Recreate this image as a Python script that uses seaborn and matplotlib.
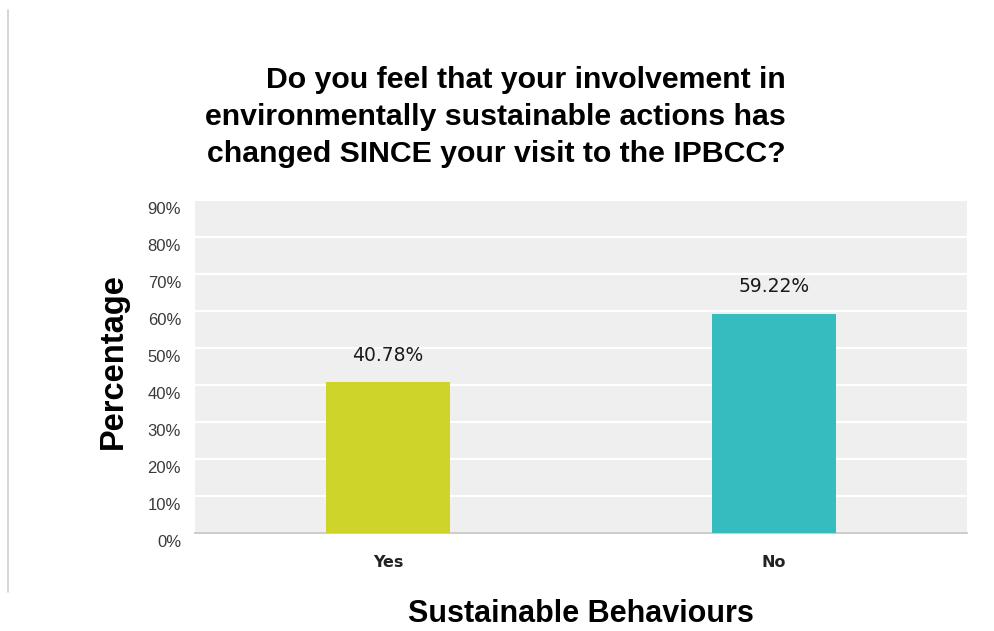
import matplotlib
matplotlib.use("Agg")
import matplotlib.pyplot as plt
import matplotlib.transforms as mtransforms
from matplotlib.lines import Line2D
from matplotlib.ticker import FuncFormatter, MultipleLocator
import seaborn as sns
import pandas as pd

# Survey responses
categories = ["Yes", "No"]
percentages = [40.78, 59.22]
bar_colors = ["#CFD42A", "#34BCBE"]

title_text = ("Do you feel that your involvement in\n"
              "environmentally sustainable actions has\n"
              "changed SINCE your visit to the IPBCC?")
x_label = "Sustainable Behaviours"
y_label = "Percentage"

sns.set_theme(style="white")
plt.rcParams["font.family"] = ["Liberation Sans", "DejaVu Sans"]

df = pd.DataFrame({"behaviour": categories, "pct": percentages})

fig = plt.figure(figsize=(9.94, 6.31), dpi=100)
ax = fig.add_axes([195 / 994, 1 - 533 / 631, (967 - 195) / 994, (533 - 200) / 631])

sns.barplot(data=df, x="behaviour", y="pct", hue="behaviour",
            palette=bar_colors, width=0.32, legend=False, ax=ax,
            saturation=1, edgecolor="none", zorder=3)

ax.set_facecolor("#EFEFEF")
ax.set_xlim(-0.5, 1.5)
ax.set_ylim(0, 90)
ax.yaxis.set_major_locator(MultipleLocator(10))
ax.yaxis.set_major_formatter(FuncFormatter(lambda v, _: f"{v:.0f}%"))
ax.grid(axis="y", color="white", linewidth=1.6, zorder=1)
ax.set_axisbelow(True)

for side in ["top", "right", "left"]:
    ax.spines[side].set_visible(False)
ax.spines["bottom"].set_color("#C4C4C4")
ax.spines["bottom"].set_linewidth(1.2)

ax.tick_params(axis="both", length=0)
ax.tick_params(axis="y", labelsize=12, labelcolor="#3A3A3A", pad=10)
ax.tick_params(axis="x", pad=16)
for lbl in ax.get_yticklabels():
    lbl.set_fontfamily(["Liberation Sans", "DejaVu Sans"])
    lbl.set_transform(lbl.get_transform() +
                      mtransforms.ScaledTranslation(0, -8 / 100, fig.dpi_scale_trans))
for lbl in ax.get_xticklabels():
    lbl.set_fontfamily(["DejaVu Sans"])
    lbl.set_fontweight("bold")
    lbl.set_fontsize(11.5)
    lbl.set_color("#222222")

# Value labels above each bar
for patch, val in zip(ax.patches, percentages):
    ax.annotate(f"{val:.2f}%",
                (patch.get_x() + patch.get_width() / 2, val),
                xytext=(0, 19.5), textcoords="offset points",
                ha="center", va="center", fontsize=13.5,
                family="DejaVu Sans", color="#1A1A1A")

ax.set_xlabel(x_label, fontsize=22, fontweight="bold", color="black",
              va="center")
ax.xaxis.set_label_coords(0.5, (533 - 614) / 333)
ax.set_ylabel(y_label, fontsize=23.5, fontweight="bold", color="black",
              va="center")
ax.yaxis.set_label_coords((113 - 195) / 772, (533 - 361) / 333)

fig.text(786 / 994, 1 - 66 / 631, title_text, ha="right", va="top",
         multialignment="right", fontsize=21.8, fontweight="bold",
         linespacing=1.42, color="black")

# Thin frame line along the left edge
fig.add_artist(Line2D([8 / 994, 8 / 994], [1 - 592 / 631, 1 - 10 / 631],
                      transform=fig.transFigure, color="#D0D0D0", linewidth=1.2))

fig.savefig("out.png", dpi=100, facecolor="white")
